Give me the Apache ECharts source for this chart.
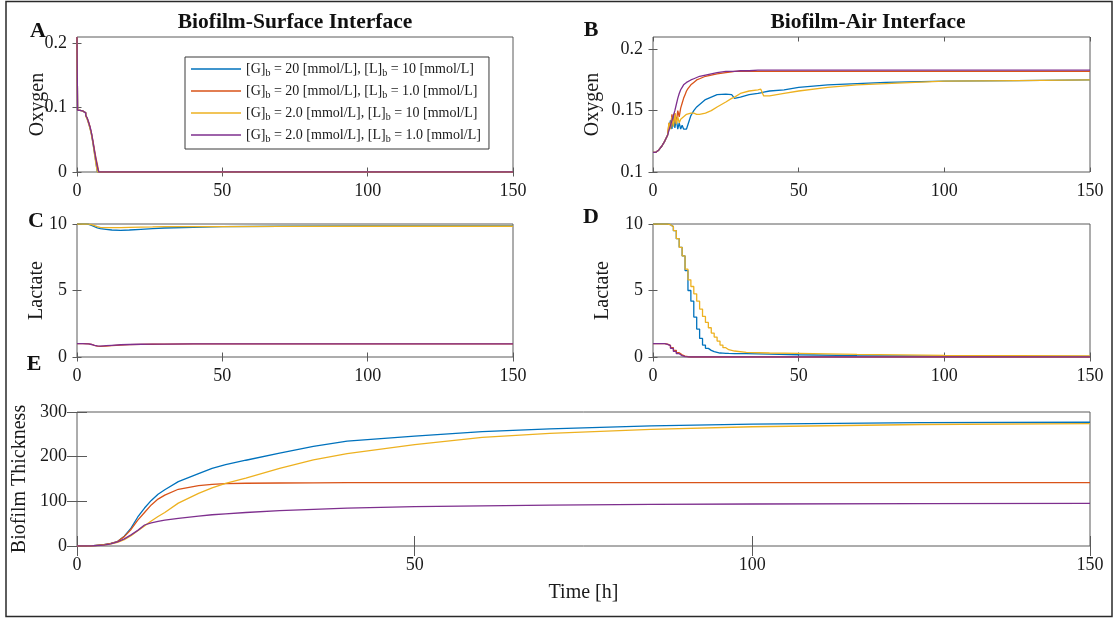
<!DOCTYPE html>
<html><head><meta charset="utf-8">
<script src="https://cdn.jsdelivr.net/npm/echarts@6/dist/echarts.min.js"></script>
<style>html,body{margin:0;padding:0;background:#fff}#c{width:1117px;height:619px}</style>
</head><body><div id="c"></div>
<script>
// ---------- DATA ----------
const seriesNames = ['G20L10', 'G20L1', 'G2L10', 'G2L1'];
const legendLabels = [
  '{n|[G]}{s|b}{n| = 20 [mmol/L], [L]}{s|b}{n| = 10 [mmol/L]}',
  '{n|[G]}{s|b}{n| = 20 [mmol/L], [L]}{s|b}{n| = 1.0 [mmol/L]}',
  '{n|[G]}{s|b}{n| = 2.0 [mmol/L], [L]}{s|b}{n| = 10 [mmol/L]}',
  '{n|[G]}{s|b}{n| = 2.0 [mmol/L], [L]}{s|b}{n| = 1.0 [mmol/L]}'
];
const colors = ['#0072BD', '#D95319', '#EDB120', '#7E2F8E'];
const xTicks = [0, 50, 100, 150];

// A: oxygen at biofilm-surface interface
const tA = [0, 0.2, 1, 2, 3, 3.5, 4, 4.5, 5, 5.5, 6, 6.5, 7, 7.5, 8, 150];
const oxySurf_G20L10 = [0.21, 0.096, 0.095, 0.092, 0.088, 0.083, 0.076, 0.068, 0.058, 0.045, 0.030, 0.015, 0, 0, 0, 0];
const oxySurf_G20L1  = [0.21, 0.096, 0.095, 0.092, 0.088, 0.084, 0.078, 0.070, 0.060, 0.048, 0.035, 0.022, 0.012, 0, 0, 0];
const oxySurf_G2L10  = [0.21, 0.096, 0.095, 0.092, 0.087, 0.082, 0.075, 0.067, 0.057, 0.044, 0.028, 0.013, 0, 0, 0, 0];
const oxySurf_G2L1   = [0.21, 0.096, 0.095, 0.092, 0.088, 0.084, 0.077, 0.070, 0.060, 0.047, 0.033, 0.020, 0.008, 0, 0, 0];
const oxySurfTicks = [0, 0.1, 0.2];

// B: oxygen at biofilm-air interface
const tB = [0, 1, 2, 3, 4, 5, 5.5, 6, 6.5, 7, 7.5, 8, 8.5, 9, 9.5, 10, 10.5, 11, 11.5, 12, 13, 14, 15, 16, 18, 20, 22, 25, 27, 28, 30, 33, 36, 37, 38, 40, 45, 50, 60, 70, 80, 100, 125, 150];
const oxyAir_G20L10 = [0.116, 0.116, 0.118, 0.121, 0.125, 0.130, 0.136, 0.142, 0.135, 0.146, 0.136, 0.143, 0.135, 0.140, 0.135, 0.138, 0.135, 0.136, 0.135, 0.136, 0.146, 0.150, 0.153, 0.155, 0.159, 0.161, 0.163, 0.1635, 0.163, 0.160, 0.161, 0.163, 0.164, 0.1645, 0.165, 0.166, 0.167, 0.169, 0.171, 0.172, 0.173, 0.174, 0.1745, 0.175];
const oxyAir_G20L1  = [0.116, 0.116, 0.118, 0.121, 0.125, 0.130, 0.140, 0.135, 0.147, 0.138, 0.148, 0.140, 0.150, 0.145, 0.152, 0.156, 0.160, 0.163, 0.166, 0.168, 0.171, 0.173, 0.175, 0.176, 0.178, 0.179, 0.180, 0.181, 0.1815, 0.182, 0.182, 0.182, 0.182, 0.182, 0.182, 0.182, 0.182, 0.182, 0.182, 0.182, 0.182, 0.182, 0.182, 0.182];
const oxyAir_G2L10  = [0.116, 0.116, 0.118, 0.121, 0.125, 0.130, 0.140, 0.135, 0.145, 0.137, 0.148, 0.139, 0.145, 0.140, 0.143, 0.144, 0.145, 0.146, 0.147, 0.147, 0.148, 0.148, 0.147, 0.147, 0.148, 0.150, 0.153, 0.157, 0.160, 0.161, 0.164, 0.166, 0.167, 0.1675, 0.162, 0.162, 0.164, 0.166, 0.169, 0.171, 0.172, 0.174, 0.1745, 0.175];
const oxyAir_G2L1   = [0.116, 0.116, 0.118, 0.121, 0.125, 0.130, 0.134, 0.138, 0.142, 0.146, 0.150, 0.155, 0.160, 0.164, 0.167, 0.169, 0.171, 0.172, 0.173, 0.174, 0.175, 0.176, 0.177, 0.178, 0.179, 0.180, 0.181, 0.182, 0.182, 0.182, 0.1825, 0.1825, 0.183, 0.183, 0.183, 0.183, 0.183, 0.183, 0.183, 0.183, 0.183, 0.183, 0.183, 0.183];
const oxyAirTicks = [0.1, 0.15, 0.2];

// C: lactate at biofilm-surface interface
const tC = [0, 2, 3, 4, 5, 6, 7, 8, 10, 12, 15, 18, 22, 26, 30, 40, 50, 70, 100, 150];
const lacSurf_G20L10 = [10, 10, 10, 9.98, 9.9, 9.8, 9.7, 9.65, 9.6, 9.55, 9.52, 9.55, 9.6, 9.65, 9.7, 9.75, 9.8, 9.83, 9.85, 9.85];
const lacSurf_G20L1  = [1, 1, 1, 0.98, 0.95, 0.88, 0.82, 0.8, 0.82, 0.86, 0.9, 0.93, 0.95, 0.96, 0.97, 0.98, 0.98, 0.99, 0.99, 0.99];
const lacSurf_G2L10  = [10, 10, 10, 9.99, 9.95, 9.88, 9.8, 9.75, 9.72, 9.72, 9.73, 9.75, 9.77, 9.78, 9.8, 9.8, 9.8, 9.82, 9.83, 9.83];
const lacSurf_G2L1   = [1, 1, 0.99, 0.98, 0.94, 0.88, 0.83, 0.82, 0.85, 0.88, 0.92, 0.94, 0.96, 0.97, 0.97, 0.98, 0.99, 0.99, 0.99, 0.99];
const lacTicks = [0, 5, 10];

// D: lactate at biofilm-air interface
const tD = [0, 1, 2, 3, 4, 5, 6, 7, 8, 9, 10, 11, 12, 13, 14, 15, 16, 17, 18, 19, 20, 21, 22, 23, 24, 25, 26, 28, 32, 40, 50, 70, 100, 150];
const lacAir_G20L10 = [10, 10, 10, 10, 10, 9.95, 9.8, 9.5, 8.9, 8.25, 7.6, 6.5, 5.0, 4.2, 3.0, 2.1, 1.4, 0.9, 0.65, 0.5, 0.4, 0.35, 0.3, 0.29, 0.28, 0.27, 0.26, 0.25, 0.22, 0.17, 0.1, 0.06, 0.04, 0.02];
const lacAir_G20L1  = [1, 1, 1, 1, 0.97, 0.88, 0.7, 0.5, 0.32, 0.17, 0.07, 0.02, 0, 0, 0, 0, 0, 0, 0, 0, 0, 0, 0, 0, 0, 0, 0, 0, 0, 0, 0, 0, 0, 0];
const lacAir_G2L10  = [10, 10, 10, 10, 10, 9.95, 9.8, 9.5, 8.9, 8.25, 7.6, 6.6, 5.8, 5.3, 4.75, 4.2, 3.6, 3.05, 2.6, 2.2, 1.8, 1.5, 1.2, 0.9, 0.7, 0.55, 0.45, 0.35, 0.3, 0.28, 0.2, 0.12, 0.08, 0.05];
const lacAir_G2L1   = [1, 1, 1, 1, 0.95, 0.85, 0.65, 0.42, 0.25, 0.1, 0.03, 0.01, 0, 0, 0, 0, 0, 0, 0, 0, 0, 0, 0, 0, 0, 0, 0, 0, 0, 0, 0, 0, 0, 0];

// E: biofilm thickness
const tE = [0, 2, 4, 5, 6, 7, 8, 9, 10, 11, 12, 13, 15, 18, 20, 22, 25, 30, 35, 40, 50, 60, 70, 85, 100, 125, 150];
const thick_G20L10 = [0, 0, 3, 6, 10, 22, 40, 65, 85, 102, 116, 126, 144, 162, 174, 182, 192, 208, 223, 235, 246, 256, 262, 269, 273, 276, 277];
const thick_G20L1  = [0, 0, 3, 6, 10, 21, 37, 58, 75, 92, 105, 114, 127, 135, 138, 139.5, 140.5, 141, 141.5, 142, 142, 142, 142, 142, 142, 142, 142];
const thick_G2L10  = [0, 0, 2, 5, 8, 14, 23, 34, 45, 56, 66, 75, 96, 118, 130, 140, 152, 174, 193, 207, 227, 243, 252, 261, 267, 272, 274];
const thick_G2L1   = [0, 0, 2, 5, 9, 16, 25, 35, 47, 52, 55, 58, 62, 67, 70, 72, 75, 79, 82, 85, 88, 90, 91.5, 93, 94, 95, 95.5];
const thickTicks = [0, 100, 200, 300];

// ---------- CHART ----------
const SERIF = "'Liberation Serif', 'DejaVu Serif', serif";
const AX = '#5a5a5a';
const zip = (t, v) => t.map((x, i) => [x, v[i]]);

const panels = [
  { rect: { left: 77, top: 37, width: 436, height: 135 }, t: tA, ys: [oxySurf_G20L10, oxySurf_G20L1, oxySurf_G2L10, oxySurf_G2L1], ymin: 0, ymax: 0.21, yt: oxySurfTicks, yname: 'Oxygen', gap: 29, tick: 4.5, step: 'end' },
  { rect: { left: 653, top: 37, width: 437, height: 135 }, t: tB, ys: [oxyAir_G20L10, oxyAir_G20L1, oxyAir_G2L10, oxyAir_G2L1], ymin: 0.1, ymax: 0.21, yt: oxyAirTicks, yname: 'Oxygen', gap: 50, tick: 4.5, step: false },
  { rect: { left: 77, top: 224, width: 436, height: 133 }, t: tC, ys: [lacSurf_G20L10, lacSurf_G20L1, lacSurf_G2L10, lacSurf_G2L1], ymin: 0, ymax: 10, yt: lacTicks, yname: 'Lactate', gap: 30, tick: 4.5, step: false },
  { rect: { left: 653, top: 224, width: 437, height: 133 }, t: tD, ys: [lacAir_G20L10, lacAir_G20L1, lacAir_G2L10, lacAir_G2L1], ymin: 0, ymax: 10, yt: lacTicks, yname: 'Lactate', gap: 40, tick: 4.5, step: 'end' },
  { rect: { left: 77, top: 412, width: 1013, height: 134 }, t: tE, ys: [thick_G20L10, thick_G20L1, thick_G2L10, thick_G2L1], ymin: 0, ymax: 300, yt: thickTicks, yname: 'Biofilm Thickness', gap: 47, tick: 10, step: false, xname: 'Time [h]' }
];

const grid = [], xAxis = [], yAxis = [], series = [];
const lbl = { fontFamily: SERIF, fontSize: 18, color: '#1a1a1a' };
panels.forEach((p, i) => {
  grid.push(Object.assign({ show: true, borderColor: AX, borderWidth: 1, backgroundColor: '#fff' }, p.rect));
  const xBase = { type: 'value', gridIndex: i, min: 0, max: 150, splitLine: { show: false },
    axisLine: { show: false }, axisTick: { inside: true, length: p.tick, lineStyle: { color: AX }, customValues: xTicks } };
  xAxis.push(Object.assign({}, xBase, { position: 'bottom',
    axisLabel: Object.assign({ margin: 10, customValues: xTicks }, lbl),
    name: p.xname || '', nameLocation: 'middle', nameGap: 37, nameMoveOverlap: false,
    nameTextStyle: { fontFamily: SERIF, fontSize: 20, color: '#1a1a1a' } }));
  xAxis.push(Object.assign({}, xBase, { position: 'top', axisLabel: { show: false } }));
  const yBase = { type: 'value', gridIndex: i, min: p.ymin, max: p.ymax, splitLine: { show: false },
    axisLine: { show: false }, axisTick: { inside: true, length: p.tick, lineStyle: { color: AX }, customValues: p.yt } };
  yAxis.push(Object.assign({}, yBase, { position: 'left',
    axisLabel: Object.assign({ margin: 10, customValues: p.yt }, lbl),
    name: p.yname, nameLocation: 'middle', nameRotate: 90, nameGap: p.gap, nameMoveOverlap: false,
    nameTextStyle: { fontFamily: SERIF, fontSize: 20, color: '#1a1a1a' } }));
  yAxis.push(Object.assign({}, yBase, { position: 'right', axisLabel: { show: false } }));
  p.ys.forEach((vals, k) => {
    series.push({ type: 'line', name: seriesNames[k], xAxisIndex: 2 * i, yAxisIndex: 2 * i,
      data: zip(p.t, vals), showSymbol: false, symbol: 'none', step: p.step, silent: true,
      color: colors[k], lineStyle: { width: 1.3, color: colors[k] }, z: 2 + k });
  });
});

const chart = echarts.init(document.getElementById('c'), null, { renderer: 'canvas' });
chart.setOption({
  animation: false,
  backgroundColor: '#fff',
  grid, xAxis, yAxis, series,
  legend: {
    data: seriesNames, left: 185, top: 57, orient: 'vertical', itemGap: 6,
    itemWidth: 50, itemHeight: 1.5, icon: 'rect', selectedMode: false,
    borderColor: '#3a3a3a', borderWidth: 1, padding: [5, 8, 5, 6], backgroundColor: '#fff',
    formatter: name => legendLabels[seriesNames.indexOf(name)],
    textStyle: { fontFamily: SERIF, fontSize: 14, color: '#1a1a1a',
      rich: { n: { fontFamily: SERIF, fontSize: 14, color: '#1a1a1a', lineHeight: 18, verticalAlign: 'middle' },
              s: { fontFamily: SERIF, fontSize: 10, color: '#1a1a1a', lineHeight: 11, verticalAlign: 'bottom' } } }
  },
  graphic: [
    { type: 'rect', shape: { x: 6, y: 1.5, width: 1106, height: 615 }, style: { fill: 'none', stroke: '#2a2a2a', lineWidth: 1.5 }, silent: true, z: -10 },
    { type: 'text', x: 295, y: 22, style: { text: 'Biofilm-Surface Interface', font: "bold 21.5px 'Liberation Serif'", fill: '#111', textAlign: 'center', textVerticalAlign: 'middle' } },
    { type: 'text', x: 868, y: 22, style: { text: 'Biofilm-Air Interface', font: "bold 21.5px 'Liberation Serif'", fill: '#111', textAlign: 'center', textVerticalAlign: 'middle' } },
    { type: 'text', x: 38, y: 31, style: { text: 'A', font: "bold 22px 'Liberation Serif'", fill: '#111', textAlign: 'center', textVerticalAlign: 'middle' } },
    { type: 'text', x: 591, y: 30, style: { text: 'B', font: "bold 22px 'Liberation Serif'", fill: '#111', textAlign: 'center', textVerticalAlign: 'middle' } },
    { type: 'text', x: 36, y: 221, style: { text: 'C', font: "bold 22px 'Liberation Serif'", fill: '#111', textAlign: 'center', textVerticalAlign: 'middle' } },
    { type: 'text', x: 591, y: 217, style: { text: 'D', font: "bold 22px 'Liberation Serif'", fill: '#111', textAlign: 'center', textVerticalAlign: 'middle' } },
    { type: 'text', x: 34, y: 364, style: { text: 'E', font: "bold 22px 'Liberation Serif'", fill: '#111', textAlign: 'center', textVerticalAlign: 'middle' } }
  ]
});
</script></body></html>
